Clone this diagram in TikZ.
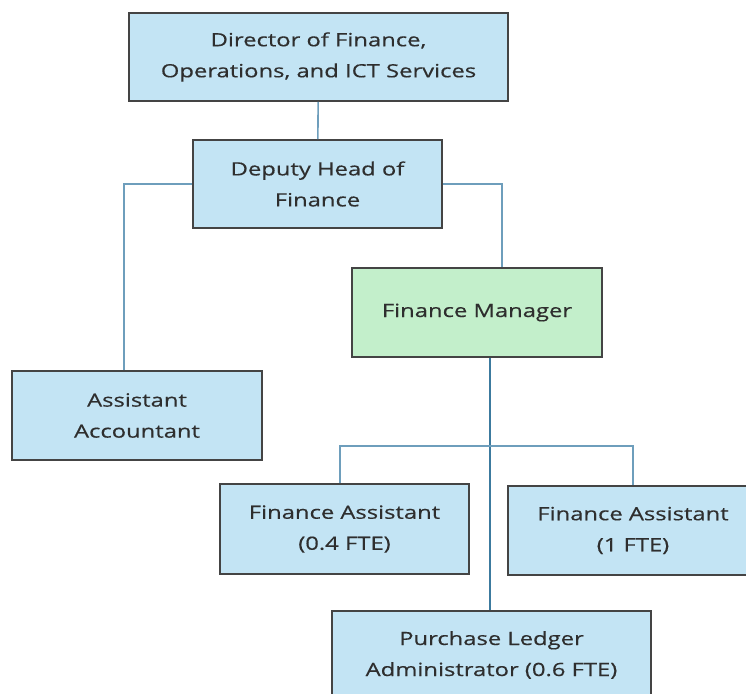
\documentclass[tikz,border=0pt]{standalone}
\usepackage{fontspec}
\setmainfont[FakeStretch=1.3,FakeBold=0.4]{Open Sans}
\usetikzlibrary{positioning,calc}

\definecolor{boxblue}{HTML}{C3E4F4}
\definecolor{boxgreen}{HTML}{C3EFCB}
\definecolor{boxline}{HTML}{444444}
\definecolor{linkblue}{HTML}{6E9EBC}
\definecolor{linkdark}{HTML}{3C7A9E}

\begin{document}
\begin{tikzpicture}[x=1pt,y=-1pt,
                    role node/.style={rectangle,draw=boxline,line width=1.6pt,fill=boxblue,
                      text=black!82,align=center,inner sep=0pt,
                      font=\fontsize{18.3}{31}\selectfont},
                    link/.style={draw=linkblue,line width=1.6pt},
                    low link/.style={draw=linkdark,line width=1.3pt}]

  \useasboundingbox (0,0) rectangle (746,693);

  \node[role node,minimum width=379pt,minimum height=88pt] (dir) at (318.5,57)
       {Director of Finance,\\Operations, and ICT Services};
  \node[role node,minimum width=249pt,minimum height=88pt] (dep) at (317.5,184)
       {Deputy Head of\\Finance};
  \node[role node,fill=boxgreen,minimum width=250pt,minimum height=89pt] (fm) at (477,312.5)
       {Finance Manager};
  \node[role node,minimum width=250pt,minimum height=89pt] (acc) at (137,415.5)
       {Assistant\\Accountant};
  \node[role node,minimum width=249pt,minimum height=90pt] (fa1) at (344.5,529)
       {Finance Assistant\\(0.4 FTE)};
  \node[role node,minimum width=250pt,minimum height=89pt] (fa2) at (633,530.5)
       {Finance Assistant\\(1 FTE)};
  \node[role node,minimum width=319pt,minimum height=88pt] (pl) at (491.5,655)
       {Purchase Ledger\\Administrator (0.6 FTE)};

  % reporting lines
  \path[link] (dir) -- (dep);
  \path[link] (dep.west) -| ([xshift=-13pt]acc.north);
  \path[link] (dep.east) -| ([xshift=25pt]fm.north);

  \coordinate (drop) at ([xshift=13pt]fm.south);
  \coordinate (split) at (drop |- 0,446);
  \path[low link] (drop) -- (drop |- pl.north);
  \path[link] ([xshift=-4.5pt]fa1.north) |- (split) -| (fa2.north);

\end{tikzpicture}
\end{document}
